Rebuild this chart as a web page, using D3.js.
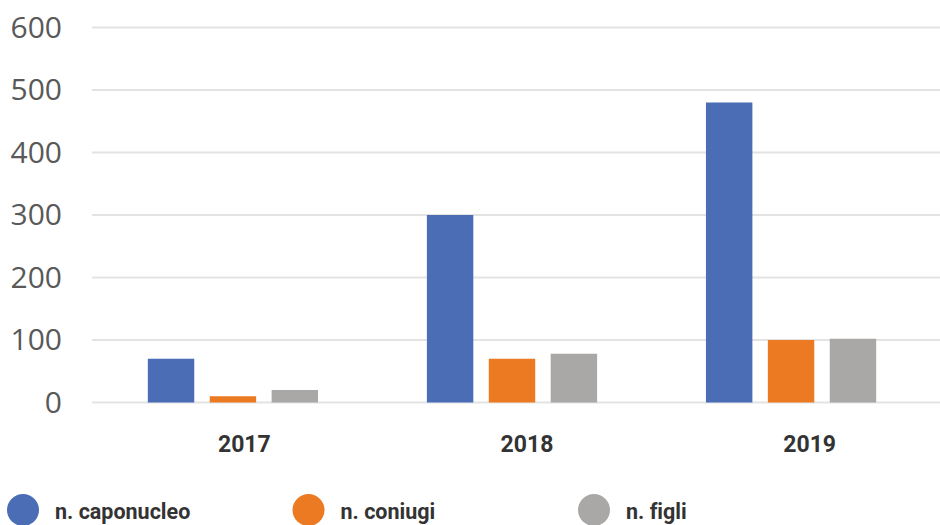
<!DOCTYPE html>
<html>
<head>
<meta charset="utf-8">
<script src="https://cdn.jsdelivr.net/npm/d3@7/dist/d3.min.js"></script>
<style>
  html, body { margin: 0; padding: 0; background: #fff; }
  svg { display: block; }
  text { font-variant-ligatures: none; }
</style>
</head>
<body>
<svg id="chart" width="940" height="525"></svg>
<script>
const years = ["2017", "2018", "2019"];
const seriesNames = ["n. caponucleo", "n. coniugi", "n. figli"];
const caponucleo = [70, 300, 480];
const coniugi = [10, 70, 100];
const figli = [20, 78, 102];
const yTicks = [0, 100, 200, 300, 400, 500, 600];
const colors = ["#4a6db6", "#eb7a22", "#a9a8a7"];

const seriesValues = [caponucleo, coniugi, figli];
const data = years.map((y, i) => ({
  year: y,
  values: seriesNames.map((s, j) => ({ key: s, idx: j, value: seriesValues[j][i] }))
}));

const svg = d3.select("#chart");

const y = d3.scaleLinear().domain([0, 600]).range([402.5, 27.5]);

const x0 = d3.scaleBand().domain(years).range([92, 932]).paddingInner(0.39).paddingOuter(0.2);
const x1 = d3.scaleBand().domain(d3.range(seriesNames.length)).range([0, x0.bandwidth()]).paddingInner(0.25).paddingOuter(0);
const xLabel = d3.scaleBand().domain(years).range([103, 951]);

// gridlines
svg.append("g")
  .selectAll("line")
  .data(yTicks)
  .join("line")
  .attr("x1", 92)
  .attr("x2", 940)
  .attr("y1", d => y(d))
  .attr("y2", d => y(d))
  .attr("stroke", "#e3e3e3")
  .attr("stroke-width", 2);

// y labels
const yAxis = svg.append("g")
  .attr("transform", "translate(62,0)")
  .call(d3.axisLeft(y).tickValues(yTicks).tickSize(0).tickPadding(0));
yAxis.select(".domain").remove();
yAxis.selectAll("text")
  .attr("fill", "#595959")
  .style("font-family", "'Open Sans', 'Noto Sans', sans-serif")
  .style("font-size", "30px");

// bars
svg.append("g")
  .selectAll("g")
  .data(data)
  .join("g")
  .attr("transform", d => `translate(${x0(d.year)},0)`)
  .selectAll("rect")
  .data(d => d.values)
  .join("rect")
  .attr("x", d => x1(d.idx))
  .attr("width", x1.bandwidth())
  .attr("y", d => y(d.value))
  .attr("height", d => y(0) - y(d.value))
  .attr("fill", d => colors[d.idx]);

// x labels
const xAxis = svg.append("g")
  .attr("transform", "translate(0,444)")
  .call(d3.axisBottom(xLabel).tickSize(0).tickPadding(0));
xAxis.select(".domain").remove();
xAxis.selectAll("text")
  .attr("fill", "#333333")
  .attr("dy", "0.35em")
  .attr("y", 0)
  .style("font-family", "Roboto, sans-serif")
  .style("font-weight", "bold")
  .style("font-size", "23px");

// legend
const legendX = d3.scalePoint().domain(seriesNames).range([23, 594]);
const leg = svg.append("g")
  .selectAll("g")
  .data(seriesNames)
  .join("g")
  .attr("transform", d => `translate(${legendX(d)},510)`);
leg.append("circle")
  .attr("r", 16)
  .attr("fill", (d, i) => colors[i]);
leg.append("text")
  .attr("x", 32)
  .attr("y", 1)
  .attr("dy", "0.35em")
  .attr("fill", "#333333")
  .style("font-family", "Roboto, sans-serif")
  .style("font-weight", "bold")
  .style("font-size", "21.5px")
  .text(d => d);
</script>
</body>
</html>
